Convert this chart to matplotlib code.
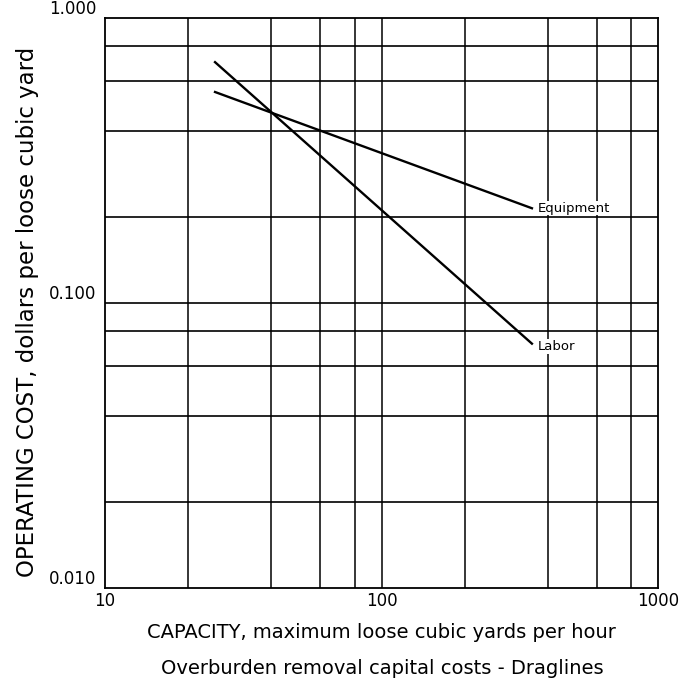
import matplotlib
matplotlib.use("Agg")
import matplotlib.pyplot as plt
import numpy as np

# Data (log-log straight lines)
capacity = [25, 350]
equipment = [0.55, 0.215]
labor = [0.70, 0.072]

x_ticks = [10, 100, 1000]
x_tick_labels = ["10", "100", "1000"]
y_ticks = [0.01, 0.1, 1.0]
y_tick_labels = ["0.010", "0.100", "1.000"]
x_grid = [20, 40, 60, 80, 100, 200, 400, 600, 800]
y_grid = [0.02, 0.04, 0.06, 0.08, 0.1, 0.2, 0.4, 0.6, 0.8]

plt.rcParams['font.family'] = ['DejaVu Sans']

fig = plt.figure(figsize=(6.87, 6.85), dpi=100)
ax = fig.add_axes([105/687, 1-588/685, (658-105)/687, (588-18)/685])
ax.set_xscale('log')
ax.set_yscale('log')
ax.set_xlim(10, 1000)
ax.set_ylim(0.01, 1.0)

for xv in x_grid:
    ax.axvline(xv, color='black', lw=1.1, zorder=1)
for yv in y_grid:
    ax.axhline(yv, color='black', lw=1.2, zorder=1)

ax.plot(capacity, equipment, color='black', lw=1.7, zorder=3)
ax.plot(capacity, labor, color='black', lw=1.7, zorder=3)

ax.annotate("Equipment", xy=(capacity[-1], equipment[-1]), xytext=(4, 0),
            textcoords='offset points', va='center', ha='left', fontsize=9.5,
            bbox=dict(facecolor='white', edgecolor='none', pad=0.5), zorder=4)
ax.annotate("Labor", xy=(capacity[-1], labor[-1]), xytext=(4, -2),
            textcoords='offset points', va='center', ha='left', fontsize=9.5,
            bbox=dict(facecolor='white', edgecolor='none', pad=0.5), zorder=4)

for s in ax.spines.values():
    s.set_linewidth(1.3)
    s.set_color('black')

ax.set_xticks(x_ticks)
ax.set_xticklabels(x_tick_labels, fontsize=12)
ax.set_yticks(y_ticks)
ax.set_yticklabels(y_tick_labels, fontsize=12, va='bottom')
ax.minorticks_off()
ax.tick_params(axis='both', length=0)
ax.tick_params(axis='x', pad=3)
ax.tick_params(axis='y', pad=6)

ax.set_xlabel("CAPACITY, maximum loose cubic yards per hour", fontsize=14, labelpad=9)
ax.set_ylabel("OPERATING COST, dollars per loose cubic yard", fontsize=16.5)
ax.yaxis.set_label_coords(-0.12, 0.484)

fig.text(0.556, 1-668/685, "Overburden removal capital costs - Draglines",
         ha='center', va='center', fontsize=14)

fig.savefig("out.png", dpi=100)
